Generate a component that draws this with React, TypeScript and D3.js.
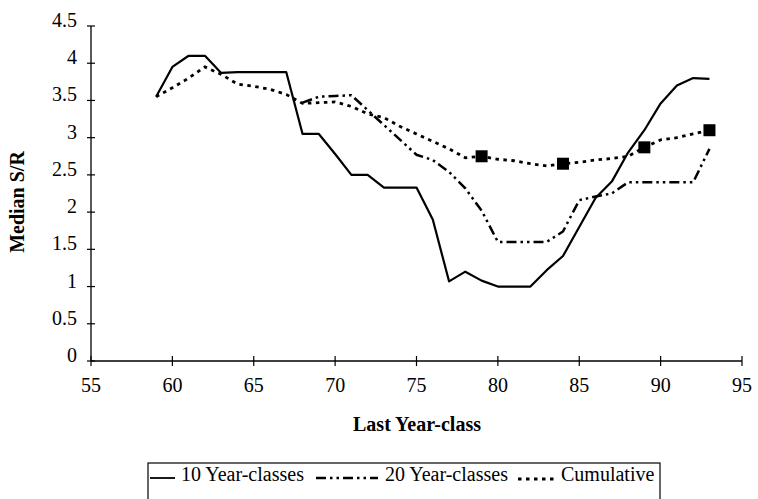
import React from "react";
import * as d3 from "d3";

const years10 = [59,60,61,62,63,64,65,66,67,68,69,70,71,72,73,74,75,76,77,78,79,80,81,82,83,84,85,86,87,88,89,90,91,92,93];
const values10 = [3.55,3.95,4.1,4.1,3.87,3.88,3.88,3.88,3.88,3.05,3.05,2.78,2.5,2.5,2.33,2.33,2.33,1.9,1.07,1.2,1.08,1.0,1.0,1.0,1.22,1.41,1.8,2.19,2.41,2.8,3.1,3.46,3.7,3.8,3.79];

const years20 = [68,69,70,71,72,73,74,75,76,77,78,79,80,81,82,83,84,85,86,87,88,89,90,91,92,93];
const values20 = [3.47,3.55,3.56,3.57,3.37,3.17,2.97,2.77,2.7,2.54,2.32,2.02,1.6,1.6,1.6,1.6,1.74,2.16,2.21,2.25,2.4,2.4,2.4,2.4,2.4,2.85];

const yearsCum = [59,60,61,62,63,64,65,66,67,68,69,70,71,72,73,74,75,76,77,78,79,80,81,82,83,84,85,86,87,88,89,90,91,92,93];
const valuesCum = [3.55,3.67,3.8,3.95,3.85,3.72,3.69,3.65,3.58,3.46,3.47,3.48,3.42,3.32,3.27,3.15,3.05,2.95,2.85,2.73,2.75,2.71,2.69,2.65,2.62,2.65,2.67,2.7,2.72,2.75,2.87,2.97,3.0,3.05,3.1];

const markerYears = [79, 84, 89, 93];

const xTicks = [55,60,65,70,75,80,85,90,95];
const yTicks = [0,0.5,1,1.5,2,2.5,3,3.5,4,4.5];

const seriesNames = ["10 Year-classes", "20 Year-classes", "Cumulative"];

const FONT = "'Liberation Serif', 'DejaVu Serif', serif";

export default function App() {
  const x = d3.scaleLinear().domain([55, 95]).range([91, 742]);
  const y = d3.scaleLinear().domain([0, 4.5]).range([361, 26]);

  const line = d3
    .line<[number, number]>()
    .x((d) => x(d[0]))
    .y((d) => y(d[1]));

  const d10 = line(years10.map((yr, i) => [yr, values10[i]] as [number, number])) || "";
  const d20 = line(years20.map((yr, i) => [yr, values20[i]] as [number, number])) || "";
  const dCum = line(yearsCum.map((yr, i) => [yr, valuesCum[i]] as [number, number])) || "";

  const dash20 = "10,4,2.5,4,2.5,4";
  const dashCum = "3.5,4.5";

  return (
    <svg
      width={758}
      height={499}
      style={{ position: "absolute", left: 0, top: 0, background: "#fff" }}
      fontFamily={FONT}
    >
      <rect x={0} y={0} width={758} height={499} fill="#fff" />
      {/* axes */}
      <line x1={x(55)} x2={x(55)} y1={y(0)} y2={y(4.5)} stroke="#000" strokeWidth={1.3} />
      <line x1={x(55)} x2={x(95)} y1={y(0)} y2={y(0)} stroke="#000" strokeWidth={1.3} />
      {yTicks.map((t) => (
        <g key={"y" + t}>
          <line x1={x(55) - 4} x2={x(55) + 4} y1={y(t)} y2={y(t)} stroke="#000" strokeWidth={1.2} />
          <text x={77} y={y(t) + 1} textAnchor="end" fontSize={20} fill="#000">
            {d3.format("~g")(t)}
          </text>
        </g>
      ))}
      {xTicks.map((t) => (
        <g key={"x" + t}>
          <line x1={x(t)} x2={x(t)} y1={y(0) - 5} y2={y(0) + 5} stroke="#000" strokeWidth={1.2} />
          <text x={x(t)} y={392} textAnchor="middle" fontSize={20} fill="#000">
            {t}
          </text>
        </g>
      ))}
      <text
        transform={`translate(24,202) rotate(-90)`}
        textAnchor="middle"
        fontSize={20}
        fontWeight="bold"
        fill="#000"
      >
        Median S/R
      </text>
      <text x={417} y={431} textAnchor="middle" fontSize={20} fontWeight="bold" fill="#000">
        Last Year-class
      </text>

      {/* series */}
      <path d={d10} fill="none" stroke="#000" strokeWidth={2.2} strokeLinejoin="round" />
      <path d={d20} fill="none" stroke="#000" strokeWidth={2.5} strokeDasharray={dash20} />
      <path d={dCum} fill="none" stroke="#000" strokeWidth={2.8} strokeDasharray={dashCum} />
      {markerYears.map((yr) => {
        const v = valuesCum[yearsCum.indexOf(yr)];
        return <rect key={yr} x={x(yr) - 6} y={y(v) - 6} width={12} height={12} fill="#000" />;
      })}

      {/* legend */}
      <rect x={148} y={463} width={512} height={50} fill="none" stroke="#000" strokeWidth={1.2} />
      <line x1={150} x2={175} y1={478} y2={478} stroke="#000" strokeWidth={1.8} />
      <text x={181} y={481} fontSize={20} fill="#000">{seriesNames[0]}</text>
      <line x1={316} x2={378} y1={478} y2={478} stroke="#000" strokeWidth={2.5} strokeDasharray={dash20} />
      <text x={385} y={481} fontSize={20} fill="#000">{seriesNames[1]}</text>
      <line x1={518} x2={556} y1={479} y2={479} stroke="#000" strokeWidth={2.8} strokeDasharray={dashCum} />
      <text x={561} y={481} fontSize={20} fill="#000">{seriesNames[2]}</text>
    </svg>
  );
}
